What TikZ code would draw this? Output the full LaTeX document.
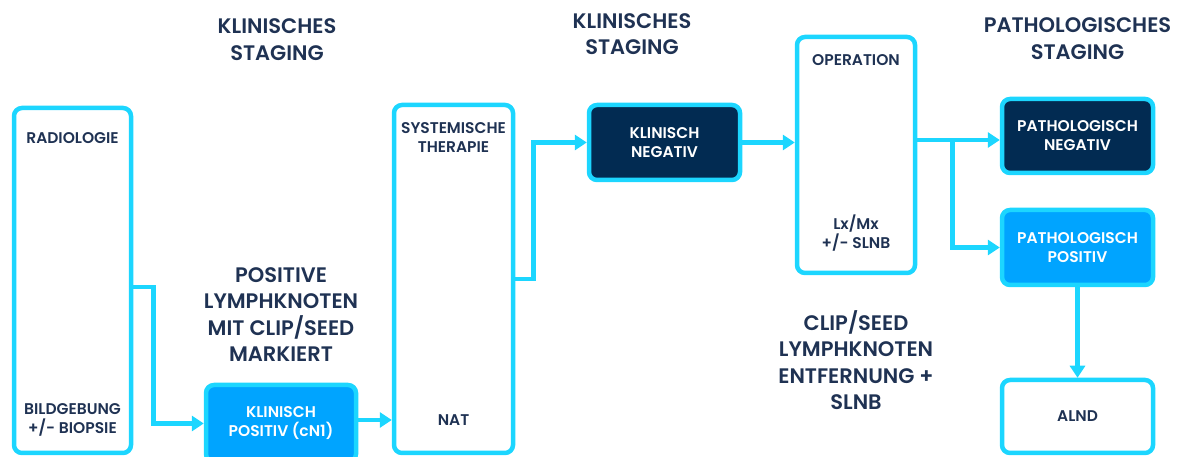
\documentclass[tikz,border=0pt]{standalone}
\usepackage{fontspec}
\setmainfont{Poppins}[BoldFont={Poppins SemiBold}]
\usetikzlibrary{positioning,arrows.meta}

\definecolor{cyanline}{HTML}{1CD6FF}
\definecolor{navyfill}{HTML}{022B52}
\definecolor{bluefill}{HTML}{00A4FF}
\definecolor{navytext}{HTML}{1F3253}

\tikzset{
	box/.style={draw=cyanline, line width=4.5pt, rounded corners=8pt, fill=white,
		inner sep=0pt, text=navytext, align=center,
		font=\bfseries\fontsize{15.5}{19}\selectfont},
	darkbox/.style={box, fill=navyfill, text=white},
	bluebox/.style={box, fill=bluefill, text=white},
	flow/.style={draw=cyanline, line width=4.5pt, -{Triangle[width=15pt,length=12pt]}},
	boxtext/.style={text=navytext, font=\bfseries\fontsize{15.5}{19}\selectfont,
		align=center, inner sep=0pt},
	headtext/.style={text=navytext, font=\bfseries\fontsize{21}{26.5}\selectfont,
		align=center, inner sep=0pt}
}

\begin{document}
\begin{tikzpicture}[x=1pt,y=1pt]
	\useasboundingbox (0,0) rectangle (1182,457);
	% boxes
	\node[box, minimum width=117pt, minimum height=345pt] (radio) at (72.5,176.5) {};
	\node[bluebox, minimum width=150pt, minimum height=77pt] (kpos) at (281,33.5) {KLINISCH\\POSITIV (cN1)};
	\node[box, minimum width=119pt, minimum height=348pt] (sys) at (453.5,178) {};
	\node[darkbox, minimum width=151pt, minimum height=75pt] (kneg) at (664.5,314.5) {KLINISCH\\NEGATIV};
	\node[box, minimum width=118pt, minimum height=236pt] (op) at (856,302) {};
	\node[darkbox, minimum width=151pt, minimum height=74pt] (pneg) at (1077.5,321) {PATHOLOGISCH\\NEGATIV};
	\node[bluebox, minimum width=151pt, minimum height=75pt, below=32.5pt of pneg] (ppos) {PATHOLOGISCH\\POSITIV};
	\node[box, minimum width=151pt, minimum height=73pt, below=90.5pt of ppos] (alnd) {ALND};

	% texts in the tall boxes
	\node[boxtext, below=27pt of radio.north] (radiotop) {RADIOLOGIE};
	\node[boxtext, above=19pt of radio.south] (radiobot) {BILDGEBUNG\\+/- BIOPSIE};
	\node[boxtext, below=20pt of sys.north] (systop) {SYSTEMISCHE\\THERAPIE};
	\node[boxtext, above=30pt of sys.south] (sysbot) {NAT};
	\node[boxtext, below=20pt of op.north] (optop) {OPERATION};
	\node[boxtext, above=24pt of op.south] (opbot) {Lx/Mx\\+/- SLNB};

	% headings
	\node[headtext] (stage1) at (277,417.5) {KLINISCHES\\STAGING};
	\node[headtext] (stage2) at (632,423) {KLINISCHES\\STAGING};
	\node[headtext, above=37pt of pneg] (stage3) {PATHOLOGISCHES\\STAGING};
	\node[headtext, above=21pt of kpos] (lymph) {POSITIVE\\LYMPHKNOTEN\\MIT CLIP/SEED\\MARKIERT};
	\node[headtext, below=35pt of op] (clip) {CLIP/SEED\\LYMPHKNOTEN\\ENTFERNUNG +\\SLNB};

	% connectors
	\draw[flow] ([yshift=-6.5pt]radio.east) -- ++(20,0) |- (kpos.west);
	\draw[flow] ([yshift=3.5pt]kpos.east) -- ([yshift=3.5pt]kpos.east -| sys.west);
	\draw[flow] (sys.east) -- ++(18,0) |- (kneg.west);
	\draw[flow] (kneg.east) -- (kneg.east -| op.west);
	\path ([yshift=-4pt]op.east |- pneg.west) coordinate (opout);
	\draw[flow] (opout) -- (opout -| pneg.west);
	\draw[flow] ([xshift=35pt]opout) |- (ppos.west);
	\draw[flow] (ppos) -- (alnd);
\end{tikzpicture}
\end{document}
